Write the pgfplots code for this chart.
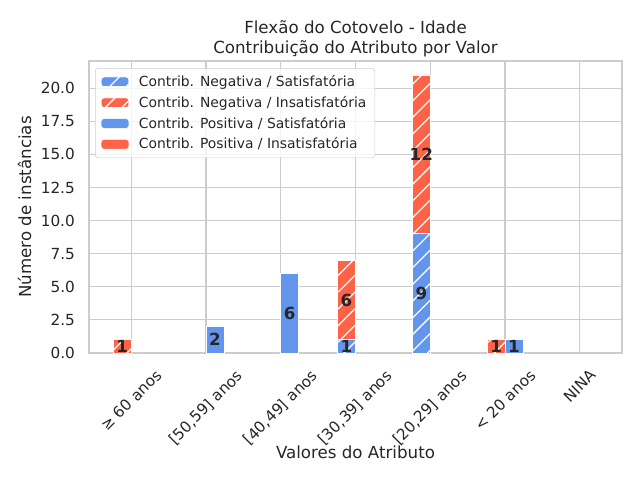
\documentclass[border=0pt]{standalone}
\usepackage{fontspec}
\setmainfont{DejaVu Sans}
\usepackage{graphicx}
\usepackage{pgfplots}
\pgfplotsset{compat=1.18}
\usetikzlibrary{patterns.meta}
\definecolor{cblue}{HTML}{6495ED}
\definecolor{tred}{HTML}{FF6347}
\definecolor{gridgray}{HTML}{CCCCCC}
\definecolor{txt}{HTML}{262626}
\tikzset{hatchw/.style={postaction={pattern={Lines[angle=45,distance=8.5pt,line width=0.9pt]},pattern color=white}}}
\begin{document}
\begin{tikzpicture}
\path[use as bounding box] (-64.08pt,-91.44pt) rectangle (396.72pt,254.16pt);
\begin{axis}[
  at={(0,0)}, anchor=south west,
  scale only axis, width=383.76pt, height=210.24pt,
  xmin=-0.564, xmax=6.564, ymin=0, ymax=22.05,
  xtick={0,1,2,3,4,5,6},
  xticklabels={\rotatebox{45}{≥ 60 anos},\rotatebox{45}{[50,59] anos},\rotatebox{45}{[40,49] anos},\rotatebox{45}{[30,39] anos},\rotatebox{45}{[20,29] anos},\rotatebox{45}{< 20 anos},\rotatebox{45}{NINA}},
  ytick={0,2.5,5,7.5,10,12.5,15,17.5,20},
  /pgf/number format/assume math mode=true,
  yticklabel style={/pgf/number format/.cd, fixed, fixed zerofill, precision=1, /tikz/.cd, anchor=east, inner sep=0pt, xshift=-10pt},
  xticklabel style={anchor=north, inner sep=0pt, yshift=-11pt},
  tick label style={font=\fontsize{11}{13}\selectfont, text=txt},
  grid=major, major grid style={gridgray, line width=0.8pt},
  axis line style={gridgray, line width=1pt},
  major tick length=0pt,
  title={Flexão do Cotovelo - Idade\\Contribuição do Atributo por Valor},
  title style={font=\fontsize{12}{14.4}\selectfont, align=center, at={(axis description cs:0.5,1.048)}, anchor=center, text=txt},
  xlabel={Valores do Atributo},
  ylabel={Número de instâncias},
  xlabel style={font=\fontsize{12}{14}\selectfont, at={(axis description cs:0.5,-0.339)}, anchor=center, text=txt},
  ylabel style={font=\fontsize{12}{14}\selectfont, at={(axis description cs:-0.121,0.5)}, anchor=center, text=txt},
  legend image code/.code={\draw[#1, fill opacity=1, draw opacity=1] (0pt,-3.5pt) rectangle (20pt,3.5pt);},
  legend style={at={(axis description cs:0.0113,0.976)}, anchor=north west,
    draw=gridgray, rounded corners=2pt, fill=white, fill opacity=0.8, text opacity=1,
    font=\fontsize{10}{12}\selectfont, text=txt, cells={anchor=west}, row sep=1.5pt,
    inner xsep=4pt, inner ysep=3pt,
    /tikz/every odd column/.append style={column sep=5pt}},
]
\addlegendimage{fill=cblue, draw=white, hatchw}
\addlegendentry{Contrib. Negativa / Satisfatória}
\addlegendimage{fill=tred, draw=white, hatchw}
\addlegendentry{Contrib. Negativa / Insatisfatória}
\addlegendimage{fill=cblue, draw=white}
\addlegendentry{Contrib. Positiva / Satisfatória}
\addlegendimage{fill=tred, draw=white}
\addlegendentry{Contrib. Positiva / Insatisfatória}
% Negative contributions (left bars, stacked: Satisfatoria bottom + Insatisfatoria top) - totals
\addplot[ybar, bar width=0.24, bar shift=-0.12, fill=tred, draw=white, line width=0.5pt, hatchw, forget plot]
  coordinates {(0,1) (3,7) (4,21) (5,1)};
\addplot[ybar, bar width=0.24, bar shift=-0.12, fill=cblue, draw=white, line width=0.5pt, hatchw, forget plot]
  coordinates {(3,1) (4,9)};
% Positive contributions (right bars)
\addplot[ybar, bar width=0.24, bar shift=0.12, fill=cblue, draw=white, line width=0.5pt, forget plot]
  coordinates {(1,2) (2,6) (5,1)};
% value labels
\addplot[only marks, mark=none, forget plot, point meta=explicit symbolic,
  nodes near coords, nodes near coords style={anchor=center, font=\fontsize{12}{14}\bfseries, text=txt}]
  coordinates {(-0.12,0.5)[1] (1.12,1)[2] (2.12,3)[6] (2.88,0.5)[1] (2.88,4)[6] (3.88,4.5)[9] (3.88,15)[12] (4.88,0.5)[1] (5.12,0.5)[1]};
\end{axis}
\end{tikzpicture}
\end{document}
